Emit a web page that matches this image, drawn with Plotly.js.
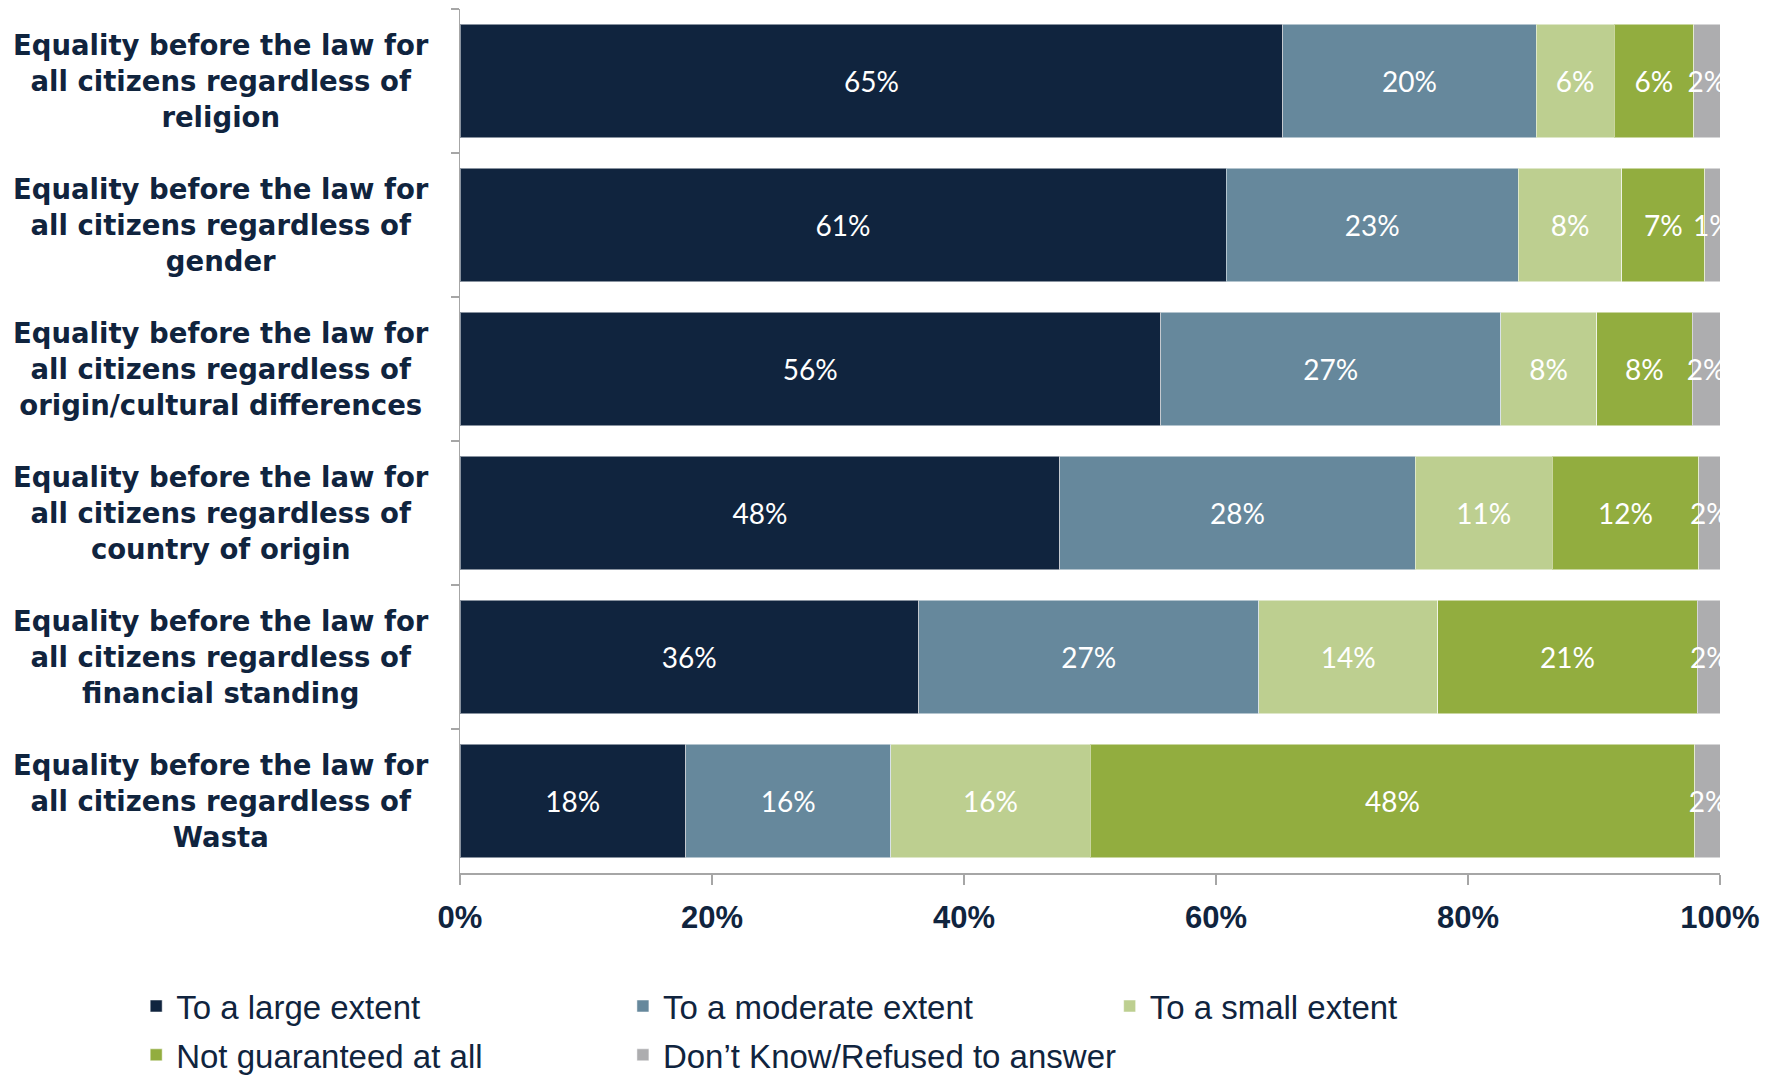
<!DOCTYPE html>
<html>
<head>
<meta charset="utf-8">
<script src="https://cdn.plot.ly/plotly-3.0.1.min.js"></script>
<style>
  html, body { margin: 0; padding: 0; background: #ffffff; }
  #chart { width: 1775px; height: 1077px; }
</style>
</head>
<body>
<div id="chart"></div>
<script>
// ---- Data ----
var categories = [
  "Equality before the law for<br>all citizens regardless of<br>religion",
  "Equality before the law for<br>all citizens regardless of<br>gender",
  "Equality before the law for<br>all citizens regardless of<br>origin/cultural differences",
  "Equality before the law for<br>all citizens regardless of<br>country of origin",
  "Equality before the law for<br>all citizens regardless of<br>financial standing",
  "Equality before the law for<br>all citizens regardless of<br>Wasta"
];
var seriesNames = [
  "To a large extent",
  "To a moderate extent",
  "To a small extent",
  "Not guaranteed at all",
  "Don\u2019t Know/Refused to answer"
];
var largeExtent    = [65.3, 60.8, 55.6, 47.6, 36.4, 17.9];
var moderateExtent = [20.1, 23.2, 27.0, 28.2, 27.0, 16.3];
var smallExtent    = [6.2,  8.2,  7.6,  10.9, 14.2, 15.8];
var notGuaranteed  = [6.3,  6.6,  7.6,  11.6, 20.6, 48.0];
var dontKnow       = [2.1,  1.2,  2.2,  1.7,  1.9,  2.1];
var xTickValues = [0, 20, 40, 60, 80, 100];
var xTickLabels = ["0%", "20%", "40%", "60%", "80%", "100%"];

var seriesValues = [largeExtent, moderateExtent, smallExtent, notGuaranteed, dontKnow];
var seriesColors = ["#10243E", "#66889C", "#BDCF90", "#92AD3F", "#ADADAF"];

// legend placement: one legend box per entry, laid out in a 3-column grid
var legendIds = ["legend", "legend2", "legend3", "legend4", "legend5"];
var legendCols = [-0.257, 0.1293, 0.5156];
var legendRows = [-0.154, -0.2105];

var navy = "#10243E";
var axisGrey = "#A6A6A6";

var traces = seriesNames.map(function (name, i) {
  return {
    type: "bar",
    orientation: "h",
    name: name,
    x: seriesValues[i],
    y: categories,
    legend: legendIds[i],
    marker: { color: seriesColors[i], line: { color: "rgba(255,255,255,0.5)", width: 1 } },
    texttemplate: "%{x:.0f}%",
    textposition: "inside",
    insidetextanchor: "middle",
    textangle: 0,
    cliponaxis: true,
    textfont: { family: "Lato, 'Open Sans', sans-serif", size: 28, color: "#ffffff" },
    hoverinfo: "x+name"
  };
});

var annotations = categories.map(function (c) {
  return {
    xref: "paper", yref: "y",
    x: -0.19, y: c,
    xanchor: "center", yanchor: "middle",
    align: "center",
    text: c,
    showarrow: false,
    font: { family: "'DejaVu Sans', Verdana, sans-serif", size: 27.5, color: navy, weight: "bold" }
  };
});

var legendFont = { family: "'Liberation Sans', Arial, sans-serif", size: 33, color: navy };

var layout = {
  width: 1775,
  height: 1077,
  paper_bgcolor: "#ffffff",
  plot_bgcolor: "#ffffff",
  margin: { l: 460, r: 55, t: 9, b: 204, autoexpand: false },
  barmode: "stack",
  bargap: 0.21,
  uniformtext: { mode: "show", minsize: 28 },
  showlegend: true,
  xaxis: {
    range: [0, 100],
    tickvals: xTickValues,
    ticktext: xTickLabels,
    ticks: "outside",
    ticklen: 10,
    tickcolor: axisGrey,
    tickwidth: 1.5,
    showline: true,
    linecolor: axisGrey,
    linewidth: 1.5,
    showgrid: false,
    zeroline: false,
    ticklabelstandoff: 6,
    tickfont: { family: "'Liberation Sans', Arial, sans-serif", size: 31, color: navy, weight: "bold" }
  },
  yaxis: {
    autorange: "reversed",
    showticklabels: false,
    ticks: "outside",
    tickson: "boundaries",
    ticklen: 8,
    tickcolor: axisGrey,
    tickwidth: 1.5,
    showline: true,
    linecolor: axisGrey,
    linewidth: 1.5,
    showgrid: false,
    zeroline: false
  },
  annotations: annotations
};

legendIds.forEach(function (id, i) {
  layout[id] = {
    orientation: "h",
    x: legendCols[i % 3], xanchor: "left",
    y: legendRows[Math.floor(i / 3)], yanchor: "middle",
    font: legendFont,
    bgcolor: "rgba(0,0,0,0)"
  };
});

Plotly.newPlot("chart", traces, layout, { displayModeBar: false, staticPlot: true });
</script>
</body>
</html>
